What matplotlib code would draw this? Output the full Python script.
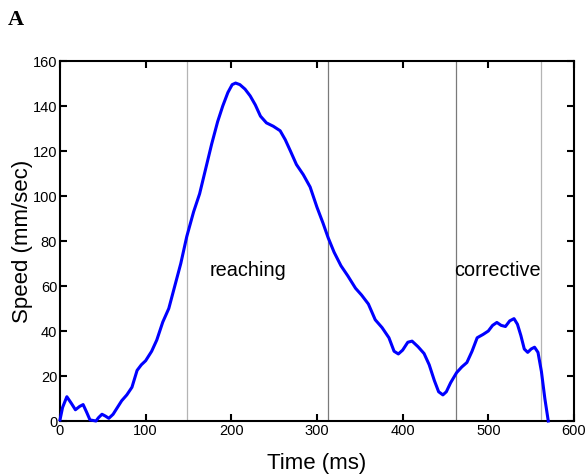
import matplotlib
matplotlib.use('Agg')
import matplotlib.pyplot as plt

plt.rcParams['font.family'] = 'Liberation Sans'

# Speed profile (ms, mm/sec)
time_ms = [0, 3, 8, 13, 18, 23, 27, 31, 35, 42, 45, 49, 53, 57, 62, 67, 72, 78, 84,
           90, 95, 100, 107, 113, 120, 127, 134, 141, 148, 156, 163, 170, 177, 184,
           190, 196, 201, 205, 210, 216, 222, 228, 234, 241, 249, 257, 263, 269, 276,
           284, 292, 300, 307, 313, 320, 328, 336, 345, 352, 360, 368, 376, 384, 390,
           395, 400, 406, 411, 418, 425, 431, 437, 442, 447, 451, 456, 463, 469, 475,
           481, 487, 494, 500, 505, 510, 515, 520, 525, 530, 534, 538, 542, 546, 550,
           554, 558, 562, 566, 570]
speed = [0.5, 6, 10.8, 8, 5, 6.5, 7.3, 4, 0.5, 0, 1.5, 3, 2.2, 1.2, 3, 6, 9, 11.6, 15,
         22.5, 25, 26.8, 31, 36, 44, 50, 60, 70, 82, 93, 101, 112, 123, 133,
         140, 146, 149.5, 150.2, 149.5, 147.5, 144.5, 140.5, 135.5, 132.5, 131, 129, 125, 120, 114,
         109.5, 104, 95, 88, 81.5, 75, 69, 64.5, 59, 56, 52, 45, 41.5, 37, 31,
         29.8, 31.5, 35, 35.5, 33, 30, 25, 18, 13, 11.6, 13, 17, 21.5, 24, 26,
         31, 37, 38.5, 40, 42.5, 43.8, 42.5, 42, 44.5, 45.5, 43, 38, 32, 30.5, 32,
         32.8, 30.5, 22, 10, 0]

# Phase boundaries (ms)
boundaries = [148, 313, 462, 562]
boundary_colours = ['#b4b4b4', '#7a7a7a', '#7a7a7a', '#b4b4b4']

phase_labels = ['reaching', 'corrective']
phase_x = [175, 460]
phase_y = [67, 67]

fig = plt.figure(figsize=(5.87, 4.74), dpi=100)
ax = fig.add_axes([0.1022, 0.1118, 0.8756, 0.7595])

for b, c in zip(boundaries, boundary_colours):
    ax.axvline(b, color=c, lw=0.9, zorder=1)

ax.plot(time_ms, speed, color='#0000ff', lw=2.2, zorder=3, clip_on=False,
        solid_joinstyle='round')

for lab, x, y in zip(phase_labels, phase_x, phase_y):
    ax.text(x, y, lab, fontsize=14.3, ha='left', va='center', color='black')

ax.set_xlim(0, 600)
ax.set_ylim(0, 160)
ax.set_xticks(range(0, 601, 100))
ax.set_yticks(range(0, 161, 20))

ax.tick_params(direction='in', length=5, width=1.5, labelsize=10.5,
               top=True, right=True, pad=2)
for s in ax.spines.values():
    s.set_linewidth(1.5)

ax.set_xlabel('Time (ms)', fontsize=16, labelpad=11)
ax.set_ylabel('Speed (mm/sec)', fontsize=16, labelpad=-0.5)

fig.text(8 / 587, 1 - 10 / 474, 'A', fontsize=16, fontweight='bold',
         family='Liberation Serif', ha='left', va='top')

fig.savefig('out.png', dpi=100)
